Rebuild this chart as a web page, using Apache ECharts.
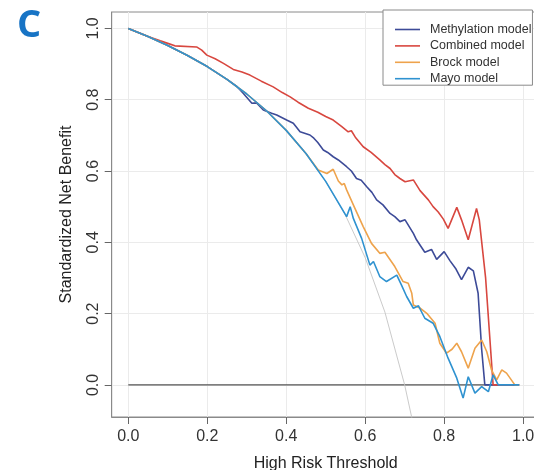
<!DOCTYPE html>
<html>
<head>
<meta charset="utf-8">
<script src="https://cdn.jsdelivr.net/npm/echarts@6/dist/echarts.min.js"></script>
<style>html,body{margin:0;padding:0;background:#fff}#c{width:534px;height:470px}</style>
</head>
<body>
<div id="c"></div>
<script>
// ---- data ----
const xTicks = [0, 0.2, 0.4, 0.6, 0.8, 1.0];
const yTicks = [0, 0.2, 0.4, 0.6, 0.8, 1.0];
const xTickLabels = ['0.0', '0.2', '0.4', '0.6', '0.8', '1.0'];
const yTickLabels = ['0.0', '0.2', '0.4', '0.6', '0.8', '1.0'];
const modelNames = ['Methylation model', 'Combined model', 'Brock model', 'Mayo model'];

const noneX = [0, 0.99];
const noneY = [0, 0];

const allX = [0, 0.05, 0.1, 0.15, 0.2, 0.25, 0.3, 0.35, 0.4, 0.45, 0.5, 0.55, 0.6, 0.65, 0.7, 0.72];
const allY = [1.0, 0.977, 0.952, 0.924, 0.893, 0.857, 0.816, 0.769, 0.714, 0.649, 0.571, 0.476, 0.357, 0.204, 0.0, -0.102];

const methX = [0, 0.05, 0.1, 0.15, 0.2, 0.25, 0.275, 0.291, 0.313, 0.325, 0.342, 0.363, 0.376, 0.401, 0.418, 0.435, 0.46, 0.47, 0.48, 0.494, 0.505, 0.519, 0.532, 0.553, 0.565, 0.578, 0.59, 0.604, 0.617, 0.629, 0.645, 0.663, 0.675, 0.688, 0.701, 0.722, 0.73, 0.751, 0.768, 0.781, 0.8, 0.815, 0.83, 0.844, 0.861, 0.874, 0.886, 0.895, 0.903, 0.99];
const methY = [1.0, 0.977, 0.952, 0.924, 0.893, 0.857, 0.837, 0.818, 0.79, 0.791, 0.771, 0.762, 0.757, 0.743, 0.734, 0.71, 0.701, 0.692, 0.68, 0.659, 0.652, 0.64, 0.631, 0.612, 0.6, 0.579, 0.574, 0.556, 0.54, 0.519, 0.505, 0.481, 0.472, 0.458, 0.463, 0.425, 0.407, 0.372, 0.38, 0.352, 0.374, 0.348, 0.325, 0.295, 0.33, 0.32, 0.257, 0.1, 0.0, 0.0];

const combX = [0, 0.05, 0.081, 0.1, 0.118, 0.173, 0.186, 0.199, 0.22, 0.241, 0.266, 0.288, 0.308, 0.337, 0.367, 0.39, 0.41, 0.43, 0.456, 0.48, 0.5, 0.519, 0.54, 0.557, 0.565, 0.575, 0.595, 0.615, 0.637, 0.65, 0.663, 0.675, 0.688, 0.701, 0.722, 0.739, 0.76, 0.772, 0.785, 0.798, 0.81, 0.832, 0.844, 0.861, 0.882, 0.889, 0.905, 0.924, 0.99];
const combY = [1.0, 0.977, 0.965, 0.958, 0.951, 0.948, 0.939, 0.925, 0.915, 0.902, 0.885, 0.878, 0.869, 0.852, 0.836, 0.82, 0.808, 0.793, 0.776, 0.765, 0.753, 0.743, 0.725, 0.71, 0.713, 0.695, 0.668, 0.652, 0.631, 0.618, 0.607, 0.59, 0.579, 0.57, 0.575, 0.545, 0.519, 0.5, 0.485, 0.465, 0.439, 0.498, 0.463, 0.407, 0.495, 0.463, 0.3, 0.0, 0.0];

const brockX = [0, 0.05, 0.1, 0.15, 0.2, 0.25, 0.3, 0.35, 0.4, 0.45, 0.481, 0.503, 0.519, 0.532, 0.541, 0.547, 0.553, 0.574, 0.595, 0.616, 0.637, 0.65, 0.675, 0.696, 0.709, 0.718, 0.722, 0.74, 0.756, 0.777, 0.789, 0.806, 0.82, 0.832, 0.844, 0.861, 0.878, 0.895, 0.908, 0.92, 0.933, 0.946, 0.958, 0.979, 0.99];
const brockY = [1.0, 0.977, 0.952, 0.924, 0.893, 0.857, 0.816, 0.769, 0.714, 0.649, 0.603, 0.593, 0.605, 0.572, 0.561, 0.565, 0.547, 0.495, 0.444, 0.397, 0.369, 0.372, 0.332, 0.29, 0.285, 0.257, 0.224, 0.215, 0.201, 0.173, 0.117, 0.089, 0.1, 0.117, 0.093, 0.047, 0.103, 0.126, 0.093, 0.042, 0.014, 0.042, 0.033, 0.0, 0.0];

const mayoX = [0, 0.05, 0.1, 0.15, 0.2, 0.25, 0.3, 0.35, 0.4, 0.45, 0.5, 0.553, 0.562, 0.57, 0.591, 0.612, 0.621, 0.637, 0.654, 0.68, 0.692, 0.705, 0.722, 0.735, 0.751, 0.772, 0.789, 0.81, 0.832, 0.848, 0.861, 0.878, 0.895, 0.912, 0.924, 0.937, 0.99];
const mayoY = [1.0, 0.977, 0.952, 0.924, 0.893, 0.857, 0.816, 0.769, 0.714, 0.649, 0.571, 0.472, 0.5, 0.467, 0.411, 0.336, 0.346, 0.304, 0.29, 0.308, 0.28, 0.248, 0.215, 0.222, 0.187, 0.173, 0.136, 0.075, 0.019, -0.037, 0.023, -0.023, -0.005, -0.019, 0.028, 0.0, 0.0];

const colors = { meth: '#3d4b98', comb: '#d8473f', brock: '#eea34c', mayo: '#2f92d0' };

function pairs(xs, ys) { return xs.map((x, i) => [x, ys[i]]); }

const FONT = '"Liberation Sans", Arial, sans-serif';
const chart = echarts.init(document.getElementById('c'), null, { renderer: 'canvas' });

function lineSeries(name, xs, ys, color, width, z) {
  return {
    name: name, type: 'line', data: pairs(xs, ys), symbol: 'none', showSymbol: false,
    lineStyle: { color: color, width: width }, itemStyle: { color: color },
    z: z, animation: false, silent: true
  };
}

chart.setOption({
  animation: false,
  backgroundColor: '#fff',
  graphic: [{
    type: 'text', left: 17, top: 7,
    style: { text: 'C', font: 'bold 38px "Open Sans", sans-serif', fill: '#1874c5' }
  }],
  grid: {
    left: 111.7, top: 12, width: 428, height: 405,
    outerBoundsMode: 'none', containLabel: false,
    show: true, borderColor: '#8a8a8a', borderWidth: 1, backgroundColor: 'transparent'
  },
  legend: {
    orient: 'vertical', left: 383, top: 10,
    padding: [13, 1, 0, 12],
    icon: 'rect',
    itemWidth: 25, itemHeight: 1.6, itemGap: 3.4,
    borderColor: '#8a8a8a', borderWidth: 1, backgroundColor: '#fff',
    textStyle: { fontSize: 12.5, lineHeight: 12, color: '#333', fontFamily: FONT, padding: [0, 0, 0, 5] },
    data: modelNames
  },
  xAxis: {
    type: 'value', min: -0.042, max: 1.042,
    name: 'High Risk Threshold', nameLocation: 'middle', nameGap: 39,
    nameTextStyle: { fontSize: 16, color: '#222', fontFamily: FONT },
    axisLine: { show: true, onZero: false, lineStyle: { color: '#8a8a8a', width: 1 } },
    axisTick: { show: true, inside: false, length: 7, customValues: xTicks, lineStyle: { color: '#666' } },
    axisLabel: {
      customValues: xTicks, margin: 12, fontSize: 16, color: '#333', fontFamily: FONT,
      formatter: v => { const i = xTicks.findIndex(t => Math.abs(t - v) < 1e-9); return i >= 0 ? xTickLabels[i] : ''; }
    },
    splitLine: { show: true, lineStyle: { color: '#ebebeb', width: 1 } }
  },
  yAxis: {
    type: 'value', min: -0.09, max: 1.046,
    name: 'Standardized Net Benefit', nameLocation: 'middle', nameGap: 37,
    nameTextStyle: { fontSize: 16, color: '#222', fontFamily: FONT },
    axisLine: { show: true, onZero: false, lineStyle: { color: '#8a8a8a', width: 1 } },
    axisTick: { show: true, inside: false, length: 7, customValues: yTicks, lineStyle: { color: '#666' } },
    axisLabel: {
      customValues: yTicks, margin: 10, rotate: 90, fontSize: 16, color: '#333', fontFamily: FONT,
      formatter: v => { const i = yTicks.findIndex(t => Math.abs(t - v) < 1e-9); return i >= 0 ? yTickLabels[i] : ''; }
    },
    splitLine: { show: true, lineStyle: { color: '#ebebeb', width: 1 } }
  },
  series: [
    lineSeries('None', noneX, noneY, '#555555', 1.4, 2),
    lineSeries('All', allX, allY, '#c4c4c4', 0.9, 2),
    lineSeries(modelNames[0], methX, methY, colors.meth, 1.6, 3),
    lineSeries(modelNames[1], combX, combY, colors.comb, 1.6, 3),
    lineSeries(modelNames[2], brockX, brockY, colors.brock, 1.6, 3),
    lineSeries(modelNames[3], mayoX, mayoY, colors.mayo, 1.6, 3)
  ]
});
</script>
</body>
</html>
